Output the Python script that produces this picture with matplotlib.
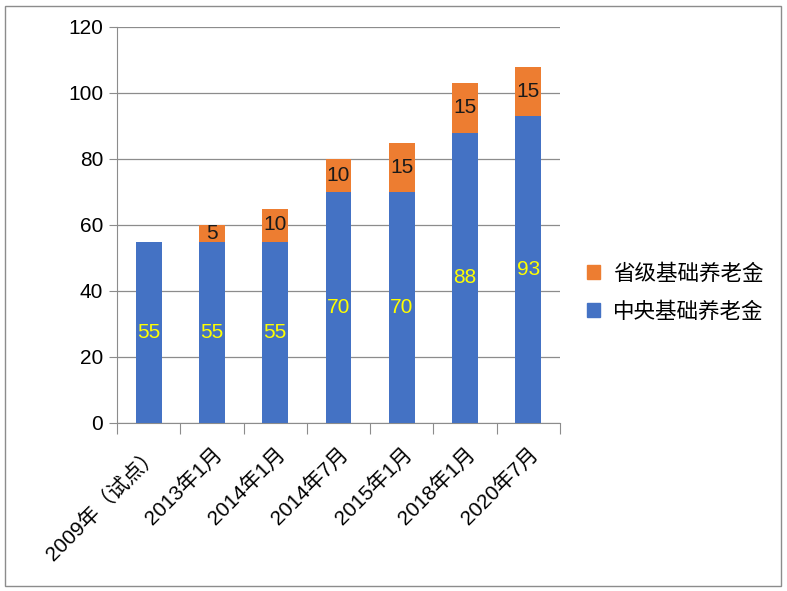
import matplotlib
matplotlib.use('Agg')
import matplotlib.pyplot as plt
from matplotlib.patches import Rectangle, Patch
import numpy as np

plt.rcParams['font.family'] = ['Liberation Sans', 'Noto Sans CJK SC']

categories = ['2009年（试点）', '2013年1月', '2014年1月', '2014年7月',
              '2015年1月', '2018年1月', '2020年7月']
central = [55, 55, 55, 70, 70, 88, 93]
provincial = [0, 5, 10, 10, 15, 15, 15]

blue = '#4472C4'
orange = '#ED7D31'
grid_c = '#8C8C8C'

fig = plt.figure(figsize=(7.87, 5.91), dpi=100)
ax = fig.add_axes([117 / 787, 1 - 423 / 591, (560 - 117) / 787, (423 - 27) / 591])

x = np.arange(len(categories))
w = 0.41
ax.bar(x, central, width=w, color=blue, zorder=3)
ax.bar(x, provincial, width=w, bottom=central, color=orange, zorder=3)

for i in range(len(categories)):
    ax.text(x[i], central[i] / 2, str(central[i]), ha='center', va='center',
            color='#FFFF00', fontsize=15, zorder=4)
    if provincial[i] > 0:
        ax.text(x[i], central[i] + provincial[i] / 2, str(provincial[i]),
                ha='center', va='center', color='#1a1a1a', fontsize=15, zorder=4)

ax.set_xlim(-0.5, len(categories) - 0.5)
ax.set_ylim(0, 120)
ax.set_yticks(range(0, 121, 20))
ax.grid(axis='y', color=grid_c, linewidth=0.9, zorder=0)
ax.tick_params(axis='y', length=6, color=grid_c, labelsize=15, pad=4)
ax.tick_params(axis='x', length=8, color=grid_c, labelsize=15)
ax.set_xticks(np.arange(-0.5, len(categories)), minor=False)
ax.set_xticklabels([])
ax.set_xticks(x, minor=True)
ax.set_xticklabels(categories, minor=True, rotation=45, ha='right',
                   rotation_mode='anchor')
ax.tick_params(axis='x', which='minor', length=0, labelsize=15, pad=15)

for s in ['top', 'right']:
    ax.spines[s].set_visible(False)
ax.spines['left'].set_color(grid_c)
ax.spines['bottom'].set_color(grid_c)

handles = [Patch(color=orange, label='省级基础养老金'),
           Patch(color=blue, label='中央基础养老金')]
fig.legend(handles=handles, loc='center left', bbox_to_anchor=(587 / 787, 1 - 293 / 591),
           frameon=False, fontsize=15.5, handlelength=0.6, handleheight=0.6,
           handletextpad=0.6, labelspacing=0.8, borderaxespad=0, borderpad=0)

fig.patches.append(Rectangle((5 / 787, 5 / 591), 776 / 787, 580 / 591,
                             transform=fig.transFigure, fill=False,
                             edgecolor='#8C8C8C', linewidth=1))

plt.savefig('out.png', dpi=100)
plt.close()
